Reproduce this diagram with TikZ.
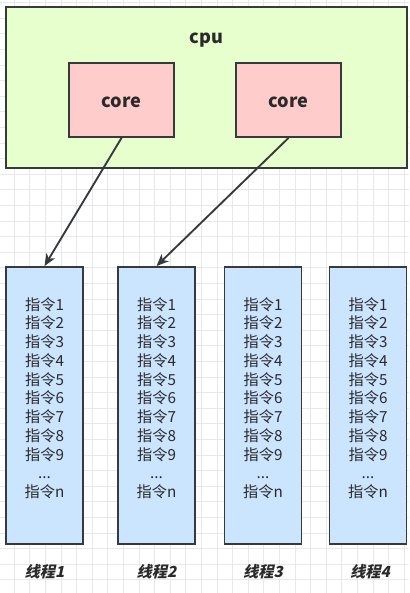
\documentclass[tikz,border=0pt]{standalone}
\usepackage{fontspec}
\setmainfont{Noto Sans CJK SC}
\newfontfamily\slantfont{Noto Sans CJK SC}[FakeSlant=0.22]
\usetikzlibrary{arrows.meta,positioning}
\definecolor{cpugreen}{HTML}{E6FFCC}
\definecolor{corered}{HTML}{FFCCCC}
\definecolor{threadblue}{HTML}{CCE5FF}
\definecolor{edgegray}{HTML}{36393D}
\definecolor{textgray}{HTML}{2A2A2A}
\newcommand{\instrlist}{指令1\\指令2\\指令3\\指令4\\指令5\\指令6\\指令7\\指令8\\指令9\\...\\指令n}
\tikzset{
  gridline/.style={draw=black!9, line width=0.5pt},
  cpubox/.style={draw=edgegray, line width=1.6pt, fill=cpugreen, minimum width=12.03cm, minimum height=4.83cm},
  corebox/.style={draw=edgegray, line width=1.6pt, fill=corered, minimum width=3.15cm, minimum height=2.22cm},
  threadbox/.style={draw=edgegray, line width=1.6pt, fill=threadblue, minimum width=2.31cm, minimum height=8.31cm},
  boldlabel/.style={text=textgray, font=\fontsize{15.5pt}{18pt}\selectfont\bfseries},
  instr/.style={text=textgray, align=center, font=\fontsize{13pt}{16pt}\selectfont},
  threadlabel/.style={text=textgray, font=\fontsize{13pt}{15pt}\slantfont\bfseries},
  runs/.style={draw=edgegray, line width=1.6pt, -{Stealth[length=3.6mm,width=3mm,inset=1mm]}}
}
\begin{document}
\begin{tikzpicture}[x=0.03cm, y=-0.03cm]
    \useasboundingbox (0,0) rectangle (409,593);
    % background grid
    \foreach \k in {0,...,26}
        \draw[gridline] ({-1.6+15.6*\k},0) -- ({-1.6+15.6*\k},593);
    \foreach \k in {0,...,37}
        \draw[gridline] (0,{2.4+15.6*\k}) -- (409,{2.4+15.6*\k});
    % the processor
    \node[cpubox] (cpu) at (206.5,87.5) {};
    \node[boldlabel] (cpulabel) at (206.5,40) {cpu};
    \node[corebox] (core1) at (121.5,100) {};
    \node[boldlabel] (core1label) at (121.5,102) {core};
    \node[corebox] (core2) at (288.5,100) {};
    \node[boldlabel] (core2label) at (288.5,102) {core};
    % the threads
    \node[threadbox] (t1) at (44.5,405.5) {};
    \node[threadbox] (t2) at (156.5,405.5) {};
    \node[threadbox] (t3) at (263,405.5) {};
    \node[threadbox] (t4) at (368,405.5) {};
    \node[instr] (i1) at (44.5,398) {\instrlist};
    \node[instr] (i2) at (156.5,398) {\instrlist};
    \node[instr] (i3) at (263,398) {\instrlist};
    \node[instr] (i4) at (368,398) {\instrlist};
    \node[threadlabel] (l1) at (44.5,572) {线程1};
    \node[threadlabel] (l2) at (156.5,572) {线程2};
    \node[threadlabel] (l3) at (263,572) {线程3};
    \node[threadlabel] (l4) at (370,572) {线程4};
    % a core runs a thread
    \draw[runs] (core1.south) -- (t1.north);
    \draw[runs] (core2.south) -- (t2.north);
\end{tikzpicture}
\end{document}
